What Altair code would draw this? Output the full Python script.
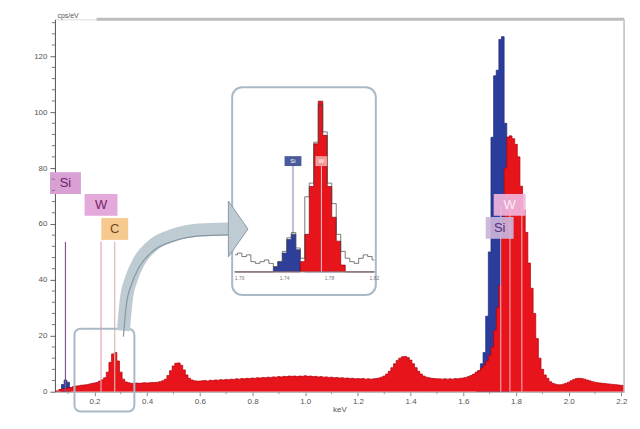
import altair as alt
import pandas as pd

FONT = "Liberation Sans"

# ---------------- main spectrum: channels of 0.01 keV from 0.05 keV ----------------
energy_start = 0.05
channel_width = 0.01
red_counts = [
    0.0, 0.3, 0.8, 1.0, 1.2, 1.3, 1.5, 1.8, 2.0, 2.1,          # 0.05-0.14
    2.3, 2.4, 2.5, 2.7, 2.9, 3.1, 3.3, 3.8, 4.3, 5.0,          # 0.15-0.24
    7.0, 10.5, 13.5, 14.0, 11.0, 7.0, 4.5, 3.5, 3.2, 3.0,      # 0.25-0.34
    3.0, 3.1, 3.0, 3.1, 3.2, 3.1, 3.2, 3.3, 3.3, 3.4,          # 0.35-0.44
    3.6, 3.9, 4.5, 5.8, 7.5, 9.2, 10.2, 10.3, 9.5, 7.8,        # 0.45-0.54
    6.0, 4.8, 4.2, 3.9, 3.8, 3.8, 3.9, 4.0, 3.8, 4.1,          # 0.55-0.64
    4.0, 4.2, 4.1, 4.3, 4.2, 4.4, 4.3, 4.5, 4.4, 4.6,          # 0.65-0.74
    4.5, 4.7, 4.6, 4.8, 4.7, 4.9, 4.8, 5.0, 4.9, 5.1,          # 0.75-0.84
    5.0, 5.2, 5.1, 5.3, 5.2, 5.4, 5.3, 5.5, 5.4, 5.6,          # 0.85-0.94
    5.5, 5.6, 5.4, 5.6, 5.5, 5.7, 5.5, 5.6, 5.4, 5.5,          # 0.95-1.04
    5.3, 5.4, 5.2, 5.3, 5.1, 5.2, 5.0, 5.1, 4.9, 5.0,          # 1.05-1.14
    4.8, 4.9, 4.7, 4.8, 4.6, 4.7, 4.6, 4.7, 4.5, 4.6,          # 1.15-1.24
    4.5, 4.6, 4.7, 4.9, 5.2, 5.6, 6.3, 7.3, 8.6, 10.0,         # 1.25-1.34
    11.2, 12.0, 12.5, 12.6, 12.2, 11.3, 10.0, 8.6, 7.3, 6.3,   # 1.35-1.44
    5.6, 5.2, 5.0, 4.8, 4.7, 4.6, 4.6, 4.5, 4.6, 4.5,          # 1.45-1.54
    4.6, 4.5, 4.7, 4.6, 4.8, 4.9, 5.1, 5.4, 5.8, 6.3,          # 1.55-1.64
    7.0, 7.5, 8.5, 9.5, 11.0, 13.0, 16.0, 22.0, 30.0, 38.0,    # 1.65-1.74
    55.0, 80.0, 91.0, 91.5, 90.5, 88.5, 84.0, 73.5, 65.0, 57.0,  # 1.75-1.84
    46.0, 37.0, 28.0, 19.0, 12.0, 8.0, 6.0, 4.8, 3.6, 3.0,     # 1.85-1.94
    2.7, 2.5, 2.5, 2.7, 3.0, 3.4, 3.9, 4.4, 4.7, 4.8,          # 1.95-2.04
    4.7, 4.5, 4.2, 3.9, 3.6, 3.4, 3.2, 3.1, 3.0, 2.9,          # 2.05-2.14
    2.8, 2.7, 2.6, 2.5, 2.4, 2.3, 2.2,                         # 2.15-2.21
]
red_energy = [round(energy_start + i * channel_width, 2) for i in range(len(red_counts))]

# Si contribution (total spectrum where the Si peaks stand above the rest)
si_l_energy = [0.07, 0.08, 0.09, 0.10, 0.11]
si_l_counts = [0.8, 2.6, 4.2, 3.4, 1.5]
si_k_energy = [1.65, 1.66, 1.67, 1.68, 1.69, 1.70, 1.71, 1.72, 1.73, 1.74, 1.75, 1.76, 1.77, 1.78]
si_k_counts = [7.0, 7.5, 10.0, 14.0, 27.0, 50.0, 91.0, 113.0, 115.0, 126.0, 127.0, 96.0, 91.0, 91.5]

x_tick_values = [0.2, 0.4, 0.6, 0.8, 1.0, 1.2, 1.4, 1.6, 1.8, 2.0, 2.2]
y_tick_values = [0, 20, 40, 60, 80, 100, 120]
y_minor_ticks = [v for v in range(0, 133, 4) if v % 20 != 0]
x_minor_ticks = [0.1, 0.3, 0.5, 0.7, 0.9, 1.1, 1.3, 1.5, 1.7, 1.9, 2.1]

# element markers
left_labels = ["Si", "W", "C"]
left_line_energy = [0.09, 0.225, 0.277]
left_line_colors = ["#7a5a8a", "#e6a6b6", "#d9b8b0"]
left_label_y = [74.6, 66.8, 58.2]
left_label_halfwidth_px = [15.5, 16.5, 13.5]
left_label_fill = ["#d9a0d4", "#e2a9da", "#f6c98e"]
left_label_text = ["#6a1f6a", "#7a2462", "#6a4a22"]

right_labels = ["W", "Si"]
right_label_energy = [1.776, 1.738]
right_label_y = [66.8, 58.6]
right_label_halfwidth_px = [16.0, 14.0]
right_label_fill = ["#f0b4dc", "#cbb4da"]
right_label_text = ["#f7eef8", "#5a2a7a"]
right_line_energy = [1.742, 1.777, 1.822]

# ---------------- inset (zoomed Si / W region) ----------------
inset_energy = [round(1.696 + 0.004 * i, 3) for i in range(32)]
inset_si = [0, 0, 0, 0, 0, 0, 0, 0, 0, 3, 6, 11, 19, 22, 13, 3,
            0, 0, 0, 0, 0, 0, 0, 0, 0, 0, 0, 0, 0, 0, 0, 0]
inset_w = [0, 0, 0, 0, 0, 0, 0, 0, 0, 0, 0, 0, 0, 0, 0, 6,
           22, 50, 75, 100, 80, 50, 32, 18, 4, 0, 0, 0, 0, 0, 0, 0]
inset_eds = [10, 11, 9, 10, 6, 5, 6, 7, 5, 3, 6, 12, 20, 23, 14, 8,
             44, 52, 76, 98, 82, 52, 40, 22, 12, 8, 6, 5, 8, 10, 9, 7]
inset_tick_values = [1.70, 1.74, 1.78, 1.82]

PX_PER_KEV = 264.0
PX_PER_COUNT = 2.8

# ---------------- encodings ----------------
xscale = alt.Scale(domain=[0.05, 2.21], nice=False, zero=False)
yscale = alt.Scale(domain=[0, 133.2], nice=False, zero=False)
xaxis = alt.Axis(values=x_tick_values, format=".1f", title="keV", titleFontSize=8,
                 titleFontWeight="normal", titleColor="#555", titlePadding=0,
                 titleFont=FONT, labelFont=FONT, labelFontSize=8, labelColor="#555",
                 tickSize=4, tickColor="#888", domainColor="#aaa", grid=False, labelPadding=2)
yaxis = alt.Axis(values=y_tick_values, title="cps/eV", titleAngle=0, titleAlign="left",
                 titleBaseline="bottom", titleX=2, titleY=-1, titleFontSize=7,
                 titleFontWeight="normal", titleColor="#555", titleFont=FONT,
                 labelFont=FONT, labelFontSize=8, labelColor="#555", tickSize=5,
                 tickColor="#666", domainColor="#555", grid=False, minExtent=42, labelPadding=3)


def X(field):
    return alt.X(field, type="quantitative", scale=xscale, axis=xaxis)


def X2(field):
    return alt.X2(field)


def Y(field):
    return alt.Y(field, type="quantitative", scale=yscale, axis=yaxis, stack=None)


def Y2(field):
    return alt.Y2(field)


red_df = pd.DataFrame({"energy": red_energy, "counts": red_counts})
blue_df = pd.DataFrame({
    "energy": si_l_energy + si_k_energy,
    "counts": si_l_counts + si_k_counts,
    "grp": ["L"] * len(si_l_energy) + ["K"] * len(si_k_energy),
})

blue = alt.Chart(blue_df).mark_area(
    interpolate="step", color="#2b3d9c", clip=True, opacity=1,
    line={"color": "#1c2a78", "strokeWidth": 0.7},
).encode(x=X("energy"), y=Y("counts"), detail="grp:N")

red = alt.Chart(red_df).mark_area(
    interpolate="step", color="#e8141b", clip=True, opacity=1,
    line={"color": "#b0000c", "strokeWidth": 0.7},
).encode(x=X("energy"), y=Y("counts"))

# marker lines
left_lines_df = pd.DataFrame({
    "energy": left_line_energy, "top": [53.6] * 3, "base": [0.0] * 3, "col": left_line_colors,
})
left_lines = alt.Chart(left_lines_df).mark_rule(strokeWidth=1.2).encode(
    x=X("energy"), y=Y("top"), y2=Y2("base"), color=alt.Color("col:N", scale=None))

right_lines_df = pd.DataFrame({
    "energy": right_line_energy, "top": [66.0] * 3, "base": [0.0] * 3,
})
right_lines = alt.Chart(right_lines_df).mark_rule(
    strokeWidth=1.3, color="#f6b0c0", opacity=0.8).encode(
    x=X("energy"), y=Y("top"), y2=Y2("base"))

# label boxes
box_rows = []
for name, e, yv, hw, fill, tc in zip(left_labels, left_line_energy, left_label_y,
                                     left_label_halfwidth_px, left_label_fill, left_label_text):
    box_rows.append(dict(name=name, e=e, y=yv, hw=hw / PX_PER_KEV, fill=fill, tc=tc, op=1.0))
for name, e, yv, hw, fill, tc in zip(right_labels, right_label_energy, right_label_y,
                                     right_label_halfwidth_px, right_label_fill, right_label_text):
    box_rows.append(dict(name=name, e=e, y=yv, hw=hw / PX_PER_KEV, fill=fill, tc=tc, op=0.92))
boxes_df = pd.DataFrame(box_rows)
boxes_df["x1"] = boxes_df["e"] - boxes_df["hw"]
boxes_df["x2"] = boxes_df["e"] + boxes_df["hw"]
boxes_df["y1"] = boxes_df["y"] - 3.9
boxes_df["y2"] = boxes_df["y"] + 3.9

label_boxes = alt.Chart(boxes_df).mark_rect().encode(
    x=X("x1"), x2=X2("x2"), y=Y("y1"), y2=Y2("y2"),
    fill=alt.Color("fill:N", scale=None),
    opacity=alt.Opacity("op:Q", scale=None))
label_texts = alt.Chart(boxes_df).mark_text(font=FONT, fontSize=13, baseline="middle").encode(
    x=X("e"), y=Y("y"), text="name:N", color=alt.Color("tc:N", scale=None))

# highlight box around the C peak and the inset frame
frames_df = pd.DataFrame({
    "x1": [0.1242, 0.7227], "x2": [0.3515, 1.268],
    "y1": [-7.1, 34.6], "y2": [22.5, 108.9],
})
small_box = alt.Chart(frames_df.iloc[[0]]).mark_rect(
    cornerRadius=6, stroke="#a9bac6", strokeWidth=2, fillOpacity=0, fill="#ffffff").encode(
    x=X("x1"), x2=X2("x2"), y=Y("y1"), y2=Y2("y2"))
inset_box = alt.Chart(frames_df.iloc[[1]]).mark_rect(
    cornerRadius=10, stroke="#a9bac6", strokeWidth=2, fill="#ffffff").encode(
    x=X("x1"), x2=X2("x2"), y=Y("y1"), y2=Y2("y2"))

# curved arrow from the small box to the inset
arrow_px = [(124, 332), (127, 300), (132, 280), (140, 262), (154, 246),
            (175, 236), (200, 231), (230, 230)]
arrow_df = pd.DataFrame({
    "energy": [0.2 + (px - 95) / PX_PER_KEV for px, py in arrow_px],
    "counts": [(393 - py) / PX_PER_COUNT for px, py in arrow_px],
})
arrow = alt.Chart(arrow_df).mark_line(
    interpolate="monotone", strokeWidth=13, color="#bfcbd3", strokeCap="butt", opacity=1).encode(
    x=X("energy"), y=Y("counts"), order="energy:Q")
arrow_edge = alt.Chart(arrow_df).mark_line(
    interpolate="monotone", strokeWidth=1.2, color="#8797a1", opacity=1).encode(
    x=X("energy"), y=Y("counts"), order="energy:Q").transform_calculate(
    counts="datum.counts - 2.1")
head_df = pd.DataFrame({"energy": [0.2 + (239 - 95) / PX_PER_KEV],
                        "counts": [(393 - 230) / PX_PER_COUNT]})
arrow_head = alt.Chart(head_df).mark_point(
    shape="M-0.35,-1L0.35,0L-0.35,1Z", size=3136, filled=True, fill="#bfcbd3",
    stroke="#8a9aa4", strokeWidth=1, opacity=1).encode(x=X("energy"), y=Y("counts"))

# frame lines (top and right) and minor ticks
top_df = pd.DataFrame({"x1": [0.208], "x2": [2.21], "y": [133.2]})
top_rule = alt.Chart(top_df).mark_rule(color="#bdbdbd", strokeWidth=3).encode(
    x=X("x1"), x2=X2("x2"), y=Y("y"))
right_df = pd.DataFrame({"x": [2.21], "y1": [0.0], "y2": [133.2]})
right_rule = alt.Chart(right_df).mark_rule(color="#c4c4c4", strokeWidth=1.5).encode(
    x=X("x"), y=Y("y1"), y2=Y2("y2"))
yminor_df = pd.DataFrame({"v": y_minor_ticks})
y_minor = alt.Chart(yminor_df).mark_rule(color="#777", strokeWidth=1).encode(
    x=alt.value(-3), x2=alt.value(0), y=Y("v"))
xminor_df = pd.DataFrame({"v": x_minor_ticks})
x_minor = alt.Chart(xminor_df).mark_rule(color="#999", strokeWidth=1).encode(
    x=X("v"), y=alt.value(373), y2=alt.value(375.5))

main = alt.layer(
    blue, red, left_lines, right_lines, label_boxes, label_texts,
    small_box, inset_box, arrow, arrow_edge, arrow_head,
    top_rule, right_rule, y_minor, x_minor,
)

# ---------------- inset layers (own scales mapped into the inset frame) ----------------
ixscale = alt.Scale(domain=[1.695, 1.82], range=[179.4, 320], nice=False, zero=False)
iyscale = alt.Scale(domain=[0, 100], range=[253, 82], nice=False, zero=False)


def IX(field):
    return alt.X(field, type="quantitative", scale=ixscale, axis=None)


def IY(field):
    return alt.Y(field, type="quantitative", scale=iyscale, axis=None, stack=None)


inset_df = pd.DataFrame({"energy": inset_energy, "si": inset_si, "w": inset_w, "eds": inset_eds})
i_blue = alt.Chart(inset_df).mark_area(
    interpolate="step", color="#2e3f99", opacity=1,
    line={"color": "#1c2a78", "strokeWidth": 0.6}).encode(
    x=IX("energy"), y=IY("si"))
i_red = alt.Chart(inset_df).mark_area(
    interpolate="step", color="#e8141b", opacity=1,
    line={"color": "#8b0008", "strokeWidth": 0.7}).encode(
    x=IX("energy"), y=IY("w"))
i_eds = alt.Chart(inset_df).mark_line(
    interpolate="step", color="#444444", strokeWidth=0.7, opacity=1).encode(
    x=IX("energy"), y=IY("eds"))
ibase_df = pd.DataFrame({"x1": [1.695], "x2": [1.82], "y": [0.0]})
i_base = alt.Chart(ibase_df).mark_rule(color="#888", strokeWidth=1).encode(
    x=IX("x1"), x2=alt.X2("x2"), y=IY("y"))

ilabel_df = pd.DataFrame({
    "name": ["Si", "W"], "e": [1.7475, 1.7728], "x1": [1.740, 1.7675], "x2": [1.755, 1.778],
    "y1": [62.0, 62.0], "y2": [67.8, 67.8], "yc": [64.9, 64.9], "lo": [22.0, 0.0],
    "fill": ["#4a5a9a", "#f39a9a"],
})
i_rules = alt.Chart(ilabel_df).mark_rule(color="#f4f4ff", strokeWidth=1, opacity=0.8).encode(
    x=IX("e"), y=IY("lo"), y2=alt.Y2("y1"))
i_si_rule = alt.Chart(ilabel_df.iloc[[0]]).mark_rule(color="#8088aa", strokeWidth=1).encode(
    x=IX("e"), y=IY("lo"), y2=alt.Y2("y1"))
i_boxes = alt.Chart(ilabel_df).mark_rect().encode(
    x=IX("x1"), x2=alt.X2("x2"), y=IY("y1"), y2=alt.Y2("y2"),
    fill=alt.Color("fill:N", scale=None))
i_texts = alt.Chart(ilabel_df).mark_text(font=FONT, fontSize=6, color="white", baseline="middle").encode(
    x=IX("e"), y=IY("yc"), text="name:N")
itick_df = pd.DataFrame({"v": inset_tick_values})
i_ticks = alt.Chart(itick_df).mark_text(font=FONT, fontSize=5, color="#777", baseline="top").encode(
    x=IX("v"), y=alt.value(257), text=alt.Text("v:Q", format=".2f"))

inset = alt.layer(i_blue, i_red, i_rules, i_si_rule, i_eds, i_base, i_boxes, i_texts, i_ticks)

chart = alt.layer(main, inset).resolve_scale(
    x="independent", y="independent"
).properties(
    width=570, height=373,
    padding={"left": 5, "top": 3, "right": 5, "bottom": 0},
    background="#ffffff",
).configure_view(stroke=None).configure(font=FONT)

chart.save("out.html", embed_options={"renderer": "svg", "actions": False})
